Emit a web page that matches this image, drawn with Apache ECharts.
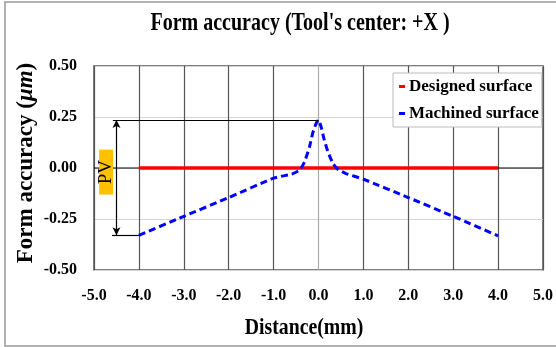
<!DOCTYPE html>
<html><head><meta charset="utf-8">
<script src="https://cdn.jsdelivr.net/npm/echarts@6/dist/echarts.min.js"></script>
<style>html,body{margin:0;padding:0;background:#fff}#c{width:556px;height:347px}</style>
</head><body><div id="c"></div>
<script>
const TITLE = "Form accuracy (Tool's center: +X )";
const X_NAME = "Distance(mm)";
const Y_NAME_A = "Form accuracy (";
const Y_NAME_B = "μm";
const Y_NAME_C = ")";
const SERIES_NAMES = ["Designed surface", "Machined surface"];
const X_TICKS = [-5, -4, -3, -2, -1, 0, 1, 2, 3, 4, 5];
const Y_TICKS = [-0.5, -0.25, 0, 0.25, 0.5];
const DESIGNED_X = [-4, 4];
const DESIGNED_Y = [0, 0];
const MACHINED_X = [-4, -3, -2, -1, -0.6, -0.42, -0.31, -0.2, -0.13, -0.05, 0, 0.06, 0.13, 0.21, 0.32, 0.43, 0.6, 1, 2, 3, 4];
const MACHINED_Y = [-0.33, -0.237, -0.145, -0.05, -0.03, -0.01, 0.031, 0.104, 0.17, 0.22, 0.235, 0.20, 0.137, 0.08, 0.023, -0.006, -0.026, -0.055, -0.145, -0.237, -0.333];
const ZERO_X = [-5, 5];
const ZERO_Y = [0, 0];
const PV_TOP = 0.235, PV_BOTTOM = -0.33;
const PV_X = -4.5;
const PV_LABEL = "PV";

const FONT = "'Liberation Serif', 'Times New Roman', serif";
const chart = echarts.init(document.getElementById('c'));
const zip = (xs, ys) => xs.map((x, i) => [x, ys[i]]);
const gridColors = X_TICKS.map(v => v === 0 ? '#aaaaaa' : '#555555');

chart.setOption({
  animation: false,
  grid: { left: 94, right: 12, top: 66, bottom: 77, show: true, borderColor: '#555', borderWidth: 1.5, backgroundColor: 'transparent' },
  xAxis: {
    type: 'value', min: -5, max: 5, interval: 1,
    axisLine: { show: false }, axisTick: { show: false },
    splitLine: { show: true, lineStyle: { color: gridColors, width: 1.2 } },
    axisLabel: { margin: 18, fontFamily: FONT, fontWeight: 'bold', fontSize: 16, color: '#000', formatter: v => v.toFixed(1) }
  },
  yAxis: {
    type: 'value', min: -0.5, max: 0.5, interval: 0.25,
    axisLine: { show: false }, axisTick: { show: false },
    splitLine: { show: true, lineStyle: { color: '#d4d4d4', width: 1 } },
    axisLabel: { margin: 17, fontFamily: FONT, fontWeight: 'bold', fontSize: 16, color: '#000', formatter: v => v.toFixed(2) }
  },
  legend: {
    orient: 'vertical', left: 393, top: 73,
    data: SERIES_NAMES,
    icon: 'rect', itemWidth: 6, itemHeight: 3, itemGap: 10,
    borderColor: '#bbb', borderWidth: 1, padding: [5, 3, 5, 6], backgroundColor: '#fff',
    textStyle: { fontFamily: FONT, fontWeight: 'bold', fontSize: 17, color: '#000', padding: [0, 0, 0, -1] }
  },
  graphic: [
    { type: 'rect', shape: { x: 5, y: 2, width: 600, height: 344 }, style: { fill: 'none', stroke: '#999', lineWidth: 1.5 }, silent: true, z: -10 },
    { type: 'text', x: 300, y: 23, scaleX: 0.77, style: { text: TITLE, font: "bold 26px " + FONT, fill: '#000', align: 'center', verticalAlign: 'middle' } },
    { type: 'text', x: 304, y: 328, scaleX: 0.86, style: { text: X_NAME, font: "bold 23px " + FONT, fill: '#000', align: 'center', verticalAlign: 'middle' } },
    { type: 'text', x: 26, y: 163, rotation: Math.PI / 2,
      style: { text: '{a|' + Y_NAME_A + '}{b|' + Y_NAME_B + '}{a|' + Y_NAME_C + '}', align: 'center', verticalAlign: 'middle',
        rich: { a: { font: "bold 23px " + FONT, fill: '#000' }, b: { font: "italic bold 23px " + FONT, fill: '#000' } } } }
  ],
  series: [
    { name: 'zero', type: 'line', data: zip(ZERO_X, ZERO_Y), symbol: 'none', lineStyle: { color: '#000', width: 1.2 }, z: 1, silent: true,
      markLine: {
        silent: true, symbol: ['none', 'none'], label: { show: false },
        lineStyle: { color: '#000', width: 1.2, type: 'solid' },
        data: [
          [{ coord: [-4.58, PV_TOP] }, { coord: [0, PV_TOP] }],
          [{ coord: [-4.6, PV_BOTTOM] }, { coord: [-4, PV_BOTTOM] }],
          [{ coord: [PV_X, PV_TOP], symbol: 'arrow', symbolSize: [6, 8] }, { coord: [PV_X, PV_BOTTOM], symbol: 'arrow', symbolSize: [6, 8] }]
        ]
      },
      markPoint: {
        silent: true,
        data: [{ coord: [-4.73, -0.02], symbol: 'rect', symbolSize: [14, 45], itemStyle: { color: '#FFC000' },
          label: { show: true, formatter: PV_LABEL, rotate: 90, fontFamily: FONT, fontSize: 19, color: '#000' } }]
      }
    },
    { name: SERIES_NAMES[0], type: 'line', data: zip(DESIGNED_X, DESIGNED_Y), symbol: 'none', itemStyle: { color: '#ff0000' }, lineStyle: { color: '#ff0000', width: 3.5 }, z: 3 },
    { name: SERIES_NAMES[1], type: 'line', data: zip(MACHINED_X, MACHINED_Y), symbol: 'none', smooth: 0.2, itemStyle: { color: '#0000ff' }, lineStyle: { color: '#0000ff', width: 3, type: [7, 4] }, z: 4 }
  ]
});
</script></body></html>
